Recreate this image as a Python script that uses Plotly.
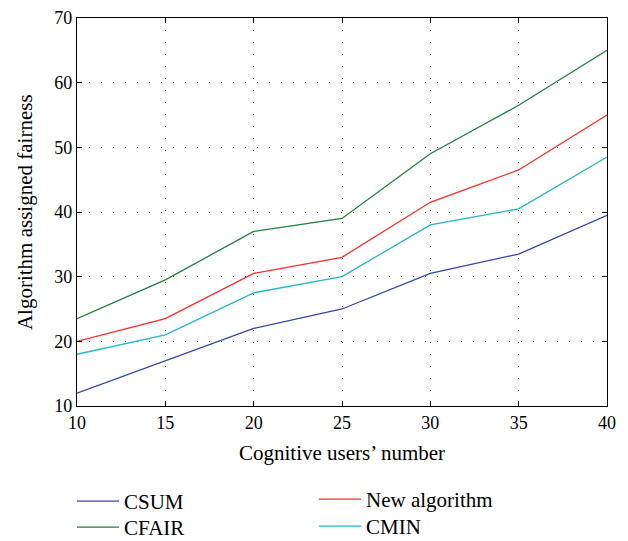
import plotly.graph_objects as go

users = [10, 15, 20, 25, 30, 35, 40]
csum = [12, 17, 22, 25, 30.5, 33.5, 39.5]
new_alg = [20, 23.5, 30.5, 33, 41.5, 46.5, 55]
cfair = [23.5, 29.5, 37, 39, 49, 56.5, 65]
cmin = [18, 21, 27.5, 30, 38, 40.5, 48.5]

W, H = 612, 533
font = "Liberation Serif, Times New Roman, serif"

# (name, values, colour, legend id, legend x px, legend top px)  -- figure coords
series = [
    ("CSUM", csum, "#3447a6", "legend", 64, 473),
    ("New algorithm", new_alg, "#ff2a2a", "legend2", 306, 471),
    ("CFAIR", cfair, "#1f8045", "legend3", 64, 499),
    ("CMIN", cmin, "#20b8c4", "legend4", 306, 498),
]

fig = go.Figure()
legends = {}
for name, vals, col, lg, lx, ly in series:
    fig.add_trace(go.Scatter(x=users, y=vals, mode="lines", name=name, legend=lg,
                             line=dict(color=col, width=1.3)))
    legends[lg] = dict(orientation="v", xref="container", yref="container",
                       x=lx / W, y=1 - ly / H, xanchor="left", yanchor="top",
                       bgcolor="rgba(0,0,0,0)", itemwidth=42,
                       font=dict(family=font, size=21, color="black"))

axis_common = dict(
    showline=True, linecolor="black", linewidth=1.2, mirror="ticks",
    ticks="inside", ticklen=5, tickcolor="black",
    showgrid=True, gridcolor="black", gridwidth=1, griddash="1px,11px",
    zeroline=False, tickfont=dict(family=font, size=18, color="black"),
)
fig.update_layout(
    width=W, height=H,
    margin=dict(l=69, r=13, t=10, b=135, autoexpand=False),
    paper_bgcolor="white", plot_bgcolor="white",
    font=dict(family=font, color="black"),
    xaxis=dict(range=[10, 40], tickvals=users, **axis_common),
    yaxis=dict(range=[10, 70], tickvals=[10, 20, 30, 40, 50, 60, 70], **axis_common),
    showlegend=True,
    annotations=[
        dict(text="Cognitive users’ number", xref="paper", yref="paper",
             x=0.5, y=-0.12, xanchor="center", yanchor="middle", showarrow=False,
             font=dict(family=font, size=21, color="black")),
        dict(text="Algorithm assigned fairness", xref="paper", yref="paper",
             x=-0.098, y=0.5, xanchor="center", yanchor="middle", showarrow=False,
             textangle=-90, font=dict(family=font, size=21, color="black")),
    ],
    **legends,
)
fig.write_html("out.html")
